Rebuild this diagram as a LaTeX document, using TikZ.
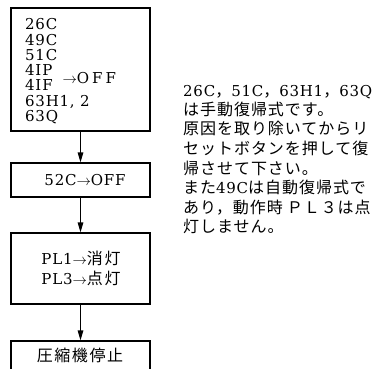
\documentclass[tikz,border=0pt]{standalone}
\usepackage{fontspec}
\setmainfont{DejaVu Serif}
\newfontfamily\jpn[LetterSpace=6]{Noto Sans CJK JP}
\newfontfamily\jpb[LetterSpace=10]{Noto Sans CJK JP}
\newfontfamily\lsp[LetterSpace=5]{DejaVu Serif}
\usetikzlibrary{arrows.meta}
\newcommand{\latn}[1]{{\lsp\fontsize{15}{15}\selectfont #1}}
\newcommand{\cjkb}[1]{{\jpb\fontsize{16}{16}\selectfont #1}}
\begin{document}
\begin{tikzpicture}[x=1pt,y=-1pt,
  flowbox/.style={draw,line width=1.1pt,minimum width=139pt,inner sep=0pt},
  flowarrow/.style={line width=1.1pt,-{Triangle[length=10pt,width=5.5pt]}},
  listtext/.style={font=\fontsize{15}{15.25}\lsp,inner sep=0pt,align=left,anchor=north west},
  ctext/.style={font=\fontsize{15}{15}\lsp,inner sep=0pt,anchor=base},
  note/.style={font=\fontsize{16}{16}\jpn,inner sep=0pt,anchor=base west}]
\useasboundingbox (0,0) rectangle (378,369);
% boxes
\node[flowbox,minimum height=123pt] (b1) at (80.5,69.5) {};
\node[flowbox,minimum height=34pt] (b2) at (80.5,180) {};
\node[flowbox,minimum height=71pt] (b3) at (80.5,268.5) {};
\node[flowbox,minimum height=44pt] (b4) at (80.5,363) {};
% box 1 text
\node[listtext] (list) at (25,18.6) {26C\\49C\\51C\\4I\hspace{1pt}P\rlap{\hspace{10pt}\smash{\raisebox{-7.75pt}{$\rightarrow$O\hspace{3pt}F\hspace{3pt}F}}}\\4I\hspace{1pt}F\\63H1, 2\\63Q};
% other boxes
\node[ctext] (t2) at (85,185.5) {52C$\rightarrow$OFF};
\node[ctext] (t3a) at (81,264.5) {PL1$\rightarrow$\cjkb{消灯}};
\node[ctext] (t3b) at (81,284.5) {PL3$\rightarrow$\cjkb{点灯}};
\node[ctext] (t4) at (80,361) {\cjkb{圧縮機停止}};
% arrows
\draw[flowarrow] (b1.south) -- (b2.north);
\draw[flowarrow] (b2.south) -- (b3.north);
\draw[flowarrow] (b3.south) -- (b4.north);
% note
\node[note] (n1) at (183,96) {\latn{26C}，\latn{51C}，\latn{63H1}，\latn{63Q}};
\node[note] (n2) at (183,115.5) {は手動復帰式です。};
\node[note] (n3) at (183,135) {原因を取り除いてからリ};
\node[note] (n4) at (183,154.5) {セットボタンを押して復};
\node[note] (n5) at (183,174) {帰させて下さい。};
\node[note] (n6) at (183,193.5) {また\latn{49C}は自動復帰式で};
\node[note] (n7) at (183,213) {あり，動作時\hspace{4pt}ＰＬ３は点};
\node[note] (n8) at (183,232) {灯しません。};
\end{tikzpicture}
\end{document}
